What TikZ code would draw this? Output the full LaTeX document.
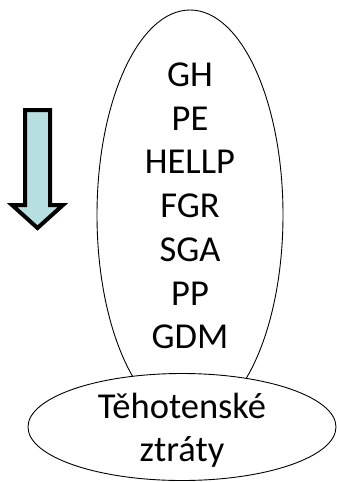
\documentclass[tikz,border=0pt]{standalone}
\usepackage{fontspec}
\setmainfont{Carlito}
\usetikzlibrary{shapes.geometric}
\definecolor{arrowfill}{RGB}{183,222,224}
\begin{document}
\begin{tikzpicture}[x=1pt,y=-1pt,
  outline/.style={draw=black,line width=0.9pt},
  label/.style={anchor=base,inner sep=0pt,font=\fontsize{36.5}{43}\selectfont}]
\useasboundingbox (0,0) rectangle (337,482);
% tall ellipse holding the list of conditions
\node[ellipse,outline,minimum width=186pt,minimum height=410pt,inner sep=0pt] (tall) at (190,215) {};
% list entries
\foreach \t [count=\i from 0] in {GH,PE,HELLP,FGR,SGA,PP,GDM}
  \node[label] (item\i) at (190,{86.5+43.7*\i}) {\t};
% wide ellipse at the bottom, drawn over the tall one
\node[ellipse,outline,fill=white,minimum width=308pt,minimum height=107pt,inner sep=0pt] (base) at (182,427) {};
\node[label] (loss1) at (182,418) {Těhotenské};
\node[label] (loss2) at (182,461) {ztráty};
% downward block arrow
\draw[line width=4pt,fill=arrowfill,line join=miter]
  (25,110) -- (50,110) -- (50,205) -- (63,205) -- (37.5,228)
  -- (12,205) -- (25,205) -- cycle;
\end{tikzpicture}
\end{document}
